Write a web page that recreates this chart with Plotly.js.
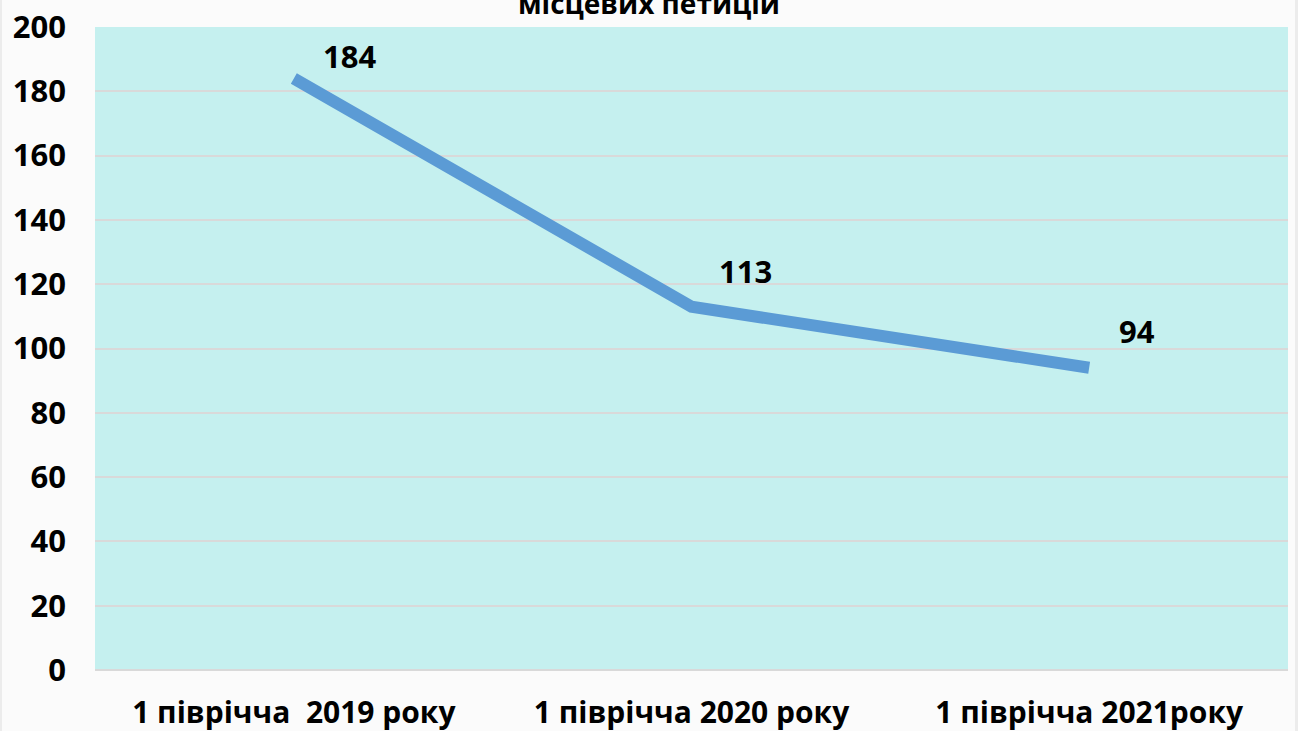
<!DOCTYPE html>
<html>
<head>
<meta charset="utf-8">
<script src="https://cdn.plot.ly/plotly-3.0.1.min.js"></script>
<style>
html,body{margin:0;padding:0;background:#fbfbfb;}
#wrap{position:relative;width:1298px;height:731px;}
#chart{width:1298px;height:731px;}
.edge{position:absolute;top:0;height:731px;background:#ececec;}
</style>
</head>
<body>
<div id="wrap">
<div id="chart"></div>
<div class="edge" style="left:0;width:2px;"></div>
<div class="edge" style="left:1295px;width:3px;"></div>
</div>
<script>
const categories = ["1 піврічча  2019 року", "1 піврічча 2020 року", "1 піврічча 2021року"];
const values = [184, 113, 94];
const yTicks = [0, 20, 40, 60, 80, 100, 120, 140, 160, 180, 200];
const titleText = "місцевих петицій";

const FONT = "'Open Sans', 'Noto Sans', sans-serif";
const labelShiftX = [56, 54, 48];
const labelShiftY = [22, 36, 37];

const annotations = categories.map((c, i) => ({
  x: c, y: values[i], xref: 'x', yref: 'y',
  text: '<b>' + values[i] + '</b>', showarrow: false,
  xshift: labelShiftX[i], yshift: labelShiftY[i],
  font: {family: FONT, size: 31, color: '#000'}
}));

const trace = {
  x: categories, y: values, type: 'scatter', mode: 'lines',
  line: {color: '#5b9bd5', width: 12},
  hoverinfo: 'none'
};

const layout = {
  width: 1298, height: 731,
  margin: {l: 95, r: 10, t: 27, b: 61},
  paper_bgcolor: '#fbfbfb',
  plot_bgcolor: '#c5f0ef',
  showlegend: false,
  title: {
    text: '<b>' + titleText + '</b>',
    font: {family: FONT, size: 28, color: '#000'},
    x: 0.5, xref: 'container', xanchor: 'center',
    y: 0.9945, yref: 'container', yanchor: 'middle'
  },
  xaxis: {
    type: 'category', range: [-0.5, 2.5], showgrid: false, zeroline: false,
    showline: false, ticks: '',
    tickfont: {family: FONT, size: 30, color: '#000'},
    tickprefix: '<b>', ticksuffix: '</b>',
    ticklabelstandoff: 22
  },
  yaxis: {
    range: [0, 200], tickvals: yTicks, ticktext: yTicks.map(v => '<b>' + v + '</b>'),
    showgrid: true, gridcolor: '#d9d9d9', gridwidth: 2,
    zeroline: true, zerolinecolor: '#d9d9d9', zerolinewidth: 2,
    showline: false, ticks: '',
    tickfont: {family: FONT, size: 31, color: '#000'},
    ticklabelstandoff: 28
  },
  annotations: annotations
};

Plotly.newPlot('chart', [trace], layout, {displayModeBar: false, staticPlot: true});
</script>
</body>
</html>
